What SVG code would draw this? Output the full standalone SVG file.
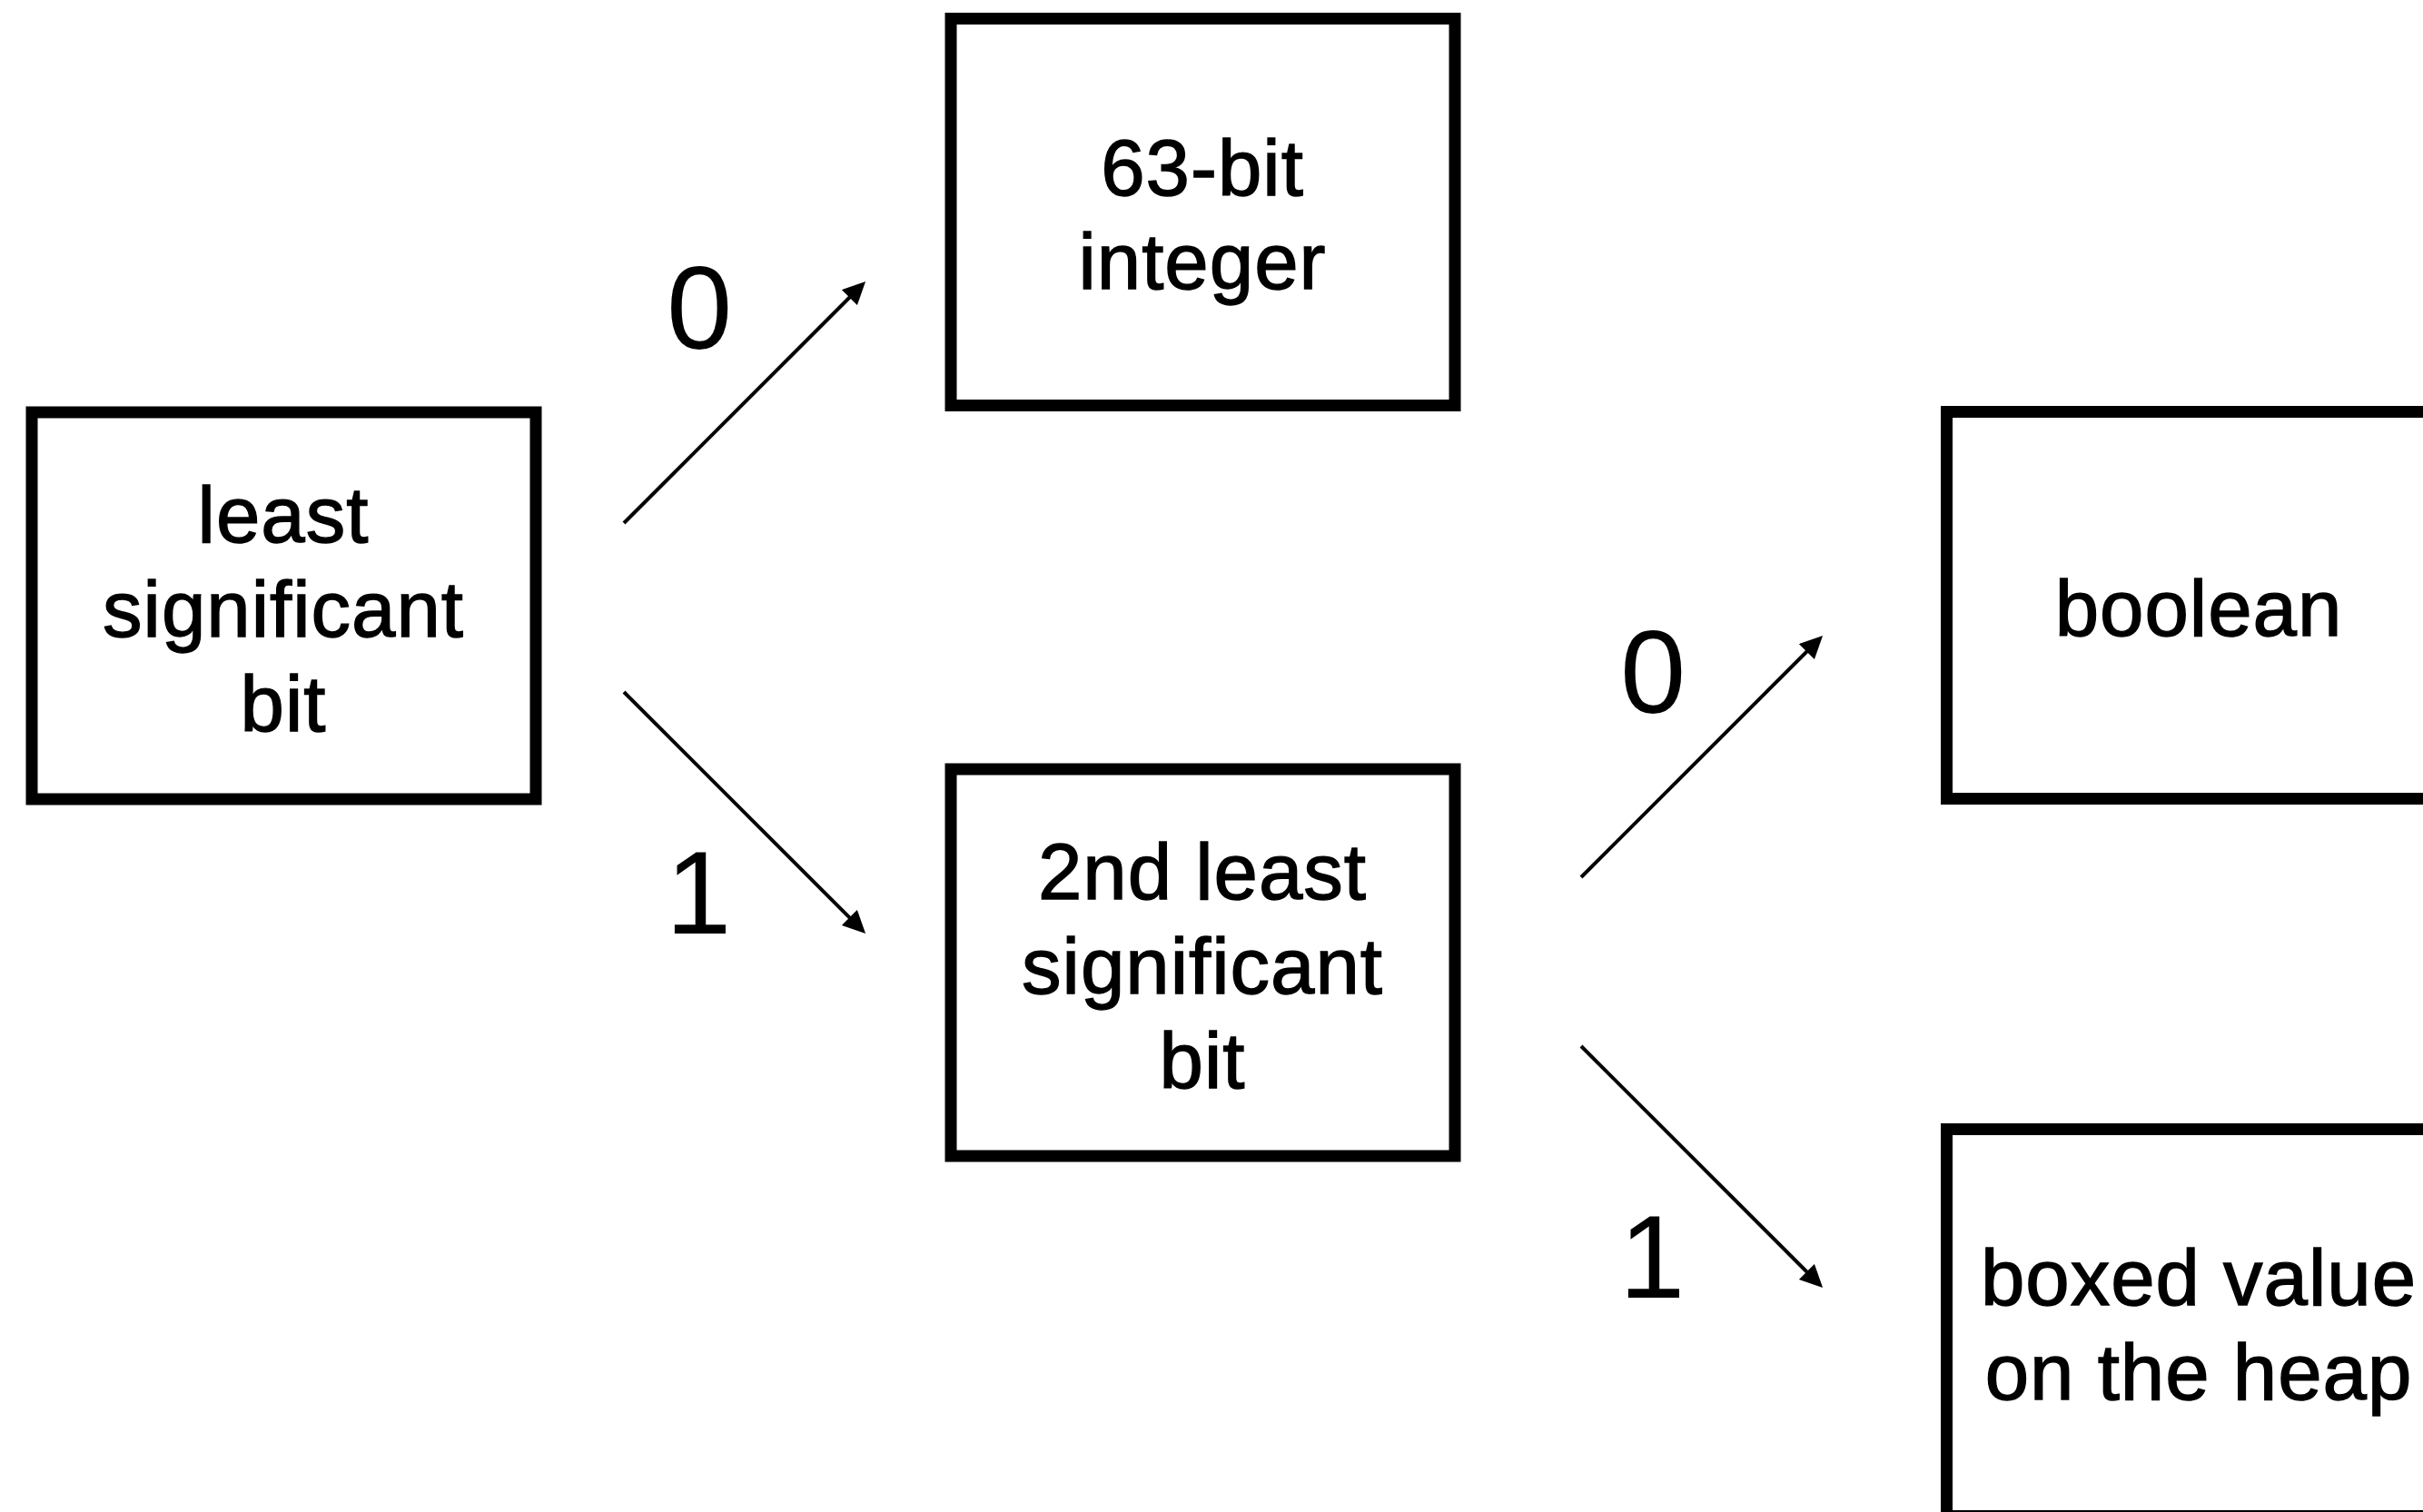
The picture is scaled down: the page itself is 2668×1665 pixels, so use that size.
<svg xmlns="http://www.w3.org/2000/svg" width="2668" height="1665" viewBox="0 0 2668 1665">
  <style>
    .box { fill: #ffffff; stroke: #000000; stroke-width: 13; }
    .label { font-family: "Liberation Sans", Arial, Helvetica, sans-serif; font-size: 87px; letter-spacing: 1px; fill: #000000; stroke: #000000; stroke-width: 1.4px; text-anchor: middle; }
    .bit { font-family: "Liberation Sans", Arial, Helvetica, sans-serif; font-size: 130px; fill: #000000; }
    .edge { stroke: #000000; stroke-width: 4; fill: none; marker-end: url(#arrow); }
  </style>
  <defs>
    <marker id="arrow" markerUnits="userSpaceOnUse" markerWidth="26" markerHeight="26" viewBox="0 0 26 26" refX="15" refY="12" orient="auto">
      <path d="M0,0 L25,12 L0,24 Z" fill="#000000"/>
    </marker>
  </defs>
  <rect width="2668" height="1665" fill="#ffffff"/>

  <g id="node-lsb">
    <rect class="box" x="35" y="454" width="555" height="426"/>
    <text class="label" x="312" y="597">least</text>
    <text class="label" x="312" y="701">significant</text>
    <text class="label" x="312" y="805">bit</text>
  </g>

  <g id="node-int63">
    <rect class="box" x="1047" y="20.5" width="555" height="426"/>
    <text class="label" x="1324" y="215">63-bit</text>
    <text class="label" x="1324" y="318">integer</text>
  </g>

  <g id="node-2nd-lsb">
    <rect class="box" x="1047" y="847" width="555" height="426"/>
    <text class="label" x="1324" y="990">2nd least</text>
    <text class="label" x="1324" y="1094">significant</text>
    <text class="label" x="1324" y="1198">bit</text>
  </g>

  <g id="node-boolean">
    <rect class="box" x="2143.5" y="453.5" width="555" height="426"/>
    <text class="label" x="2421" y="700">boolean</text>
  </g>

  <g id="node-boxed">
    <rect class="box" x="2143.5" y="1243.5" width="555" height="426"/>
    <text class="label" x="2421" y="1437">boxed value</text>
    <text class="label" x="2421" y="1541">on the heap</text>
  </g>

  <g id="connectors">
    <line class="edge" x1="687" y1="576" x2="946" y2="317"/>
    <line class="edge" x1="687" y1="762" x2="946" y2="1021"/>
    <line class="edge" x1="1741" y1="966" x2="2000" y2="707"/>
    <line class="edge" x1="1741" y1="1152" x2="2000" y2="1411"/>
    <text class="bit" x="734" y="384">0</text>
    <text class="bit" x="733" y="1028">1</text>
    <text class="bit" x="1784" y="785">0</text>
    <text class="bit" x="1783" y="1429">1</text>
  </g>
</svg>
